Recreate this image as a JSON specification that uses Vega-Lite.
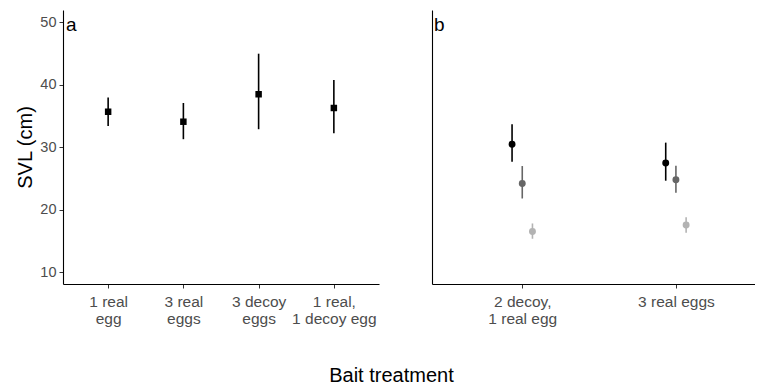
{
  "$schema": "https://vega.github.io/schema/vega-lite/v6.json",
  "background": "white",
  "padding": {"left": 15, "top": 10, "right": 0, "bottom": 0},
  "datasets": {
    "a": [
      {"treatment": "1 real egg", "svl": 35.7, "lo": 33.4, "hi": 38.0},
      {"treatment": "3 real eggs", "svl": 34.1, "lo": 31.3, "hi": 37.1},
      {"treatment": "3 decoy eggs", "svl": 38.5, "lo": 32.9, "hi": 45.0},
      {"treatment": "1 real, 1 decoy egg", "svl": 36.3, "lo": 32.25, "hi": 40.8}
    ],
    "b": [
      {"treatment": "2 decoy, 1 real egg", "group": "g1", "svl": 30.5, "lo": 27.7, "hi": 33.7},
      {"treatment": "2 decoy, 1 real egg", "group": "g2", "svl": 24.2, "lo": 21.8, "hi": 27.0},
      {"treatment": "2 decoy, 1 real egg", "group": "g3", "svl": 16.5, "lo": 15.35, "hi": 17.8},
      {"treatment": "3 real eggs", "group": "g1", "svl": 27.5, "lo": 24.65, "hi": 30.75},
      {"treatment": "3 real eggs", "group": "g2", "svl": 24.8, "lo": 22.7, "hi": 27.05},
      {"treatment": "3 real eggs", "group": "g3", "svl": 17.55, "lo": 16.3, "hi": 18.8}
    ]
  },
  "title": {
    "text": "Bait treatment",
    "orient": "bottom",
    "anchor": "middle",
    "frame": "bounds",
    "offset": 39,
    "dx": 6,
    "fontSize": 20,
    "fontWeight": "normal",
    "font": "Liberation Sans",
    "color": "black"
  },
  "bounds": "flush",
  "spacing": 53,
  "hconcat": [
    {
      "width": 316,
      "height": 274,
      "data": {"name": "a"},
      "title": {"text": "a", "anchor": "start", "orient": "top", "frame": "group", "offset": 0, "dy": 25, "dx": 3, "fontSize": 19, "fontWeight": "normal", "color": "black", "font": "Liberation Sans"},
      "encoding": {
        "x": {
          "field": "treatment", "type": "nominal",
          "sort": ["1 real egg", "3 real eggs", "3 decoy eggs", "1 real, 1 decoy egg"],
          "scale": {"type": "point", "padding": 0.6},
          "axis": {
            "title": null, "labelAngle": 0, "labelFontSize": 15.5, "labelPadding": 6,
            "labelExpr": "datum.label == '1 real egg' ? ['1 real', 'egg'] : datum.label == '3 real eggs' ? ['3 real', 'eggs'] : datum.label == '3 decoy eggs' ? ['3 decoy', 'eggs'] : ['1 real,', '1 decoy egg']"
          }
        },
        "y": {
          "field": "svl", "type": "quantitative",
          "scale": {"domain": [8.1, 52], "nice": false, "zero": false},
          "axis": {"title": "SVL (cm)", "values": [10, 20, 30, 40, 50], "grid": false, "titlePadding": 4}
        }
      },
      "layer": [
        {
          "mark": {"type": "rule", "strokeWidth": 1.6, "color": "black"},
          "encoding": {"y": {"field": "lo", "type": "quantitative"}, "y2": {"field": "hi"}}
        },
        {
          "mark": {"type": "point", "shape": "square", "filled": true, "opacity": 1, "size": 42, "color": "black"}
        }
      ]
    },
    {
      "width": 323,
      "height": 274,
      "data": {"name": "b"},
      "title": {"text": "b", "anchor": "start", "orient": "top", "frame": "group", "offset": 0, "dy": 25, "dx": 2, "fontSize": 19, "fontWeight": "normal", "color": "black", "font": "Liberation Sans"},
      "encoding": {
        "x": {
          "field": "treatment", "type": "nominal",
          "sort": ["2 decoy, 1 real egg", "3 real eggs"],
          "scale": {"type": "point", "padding": 0.551, "align": 0.533},
          "axis": {
            "title": null, "labelAngle": 0, "labelFontSize": 15.5, "labelPadding": 6,
            "labelExpr": "datum.label == '2 decoy, 1 real egg' ? ['2 decoy,', '1 real egg'] : datum.label"
          }
        },
        "xOffset": {
          "field": "group", "type": "nominal",
          "scale": {"type": "point", "range": [-15.3, 15.3]}
        },
        "y": {
          "field": "svl", "type": "quantitative",
          "scale": {"domain": [8.1, 52], "nice": false, "zero": false},
          "axis": {"title": null, "labels": false, "ticks": false, "grid": false}
        },
        "color": {
          "field": "group", "type": "nominal",
          "scale": {"domain": ["g1", "g2", "g3"], "range": ["#000000", "#666666", "#b3b3b3"]},
          "legend": null
        }
      },
      "layer": [
        {
          "mark": {"type": "rule", "strokeWidth": 1.6},
          "encoding": {"y": {"field": "lo", "type": "quantitative"}, "y2": {"field": "hi"}}
        },
        {
          "mark": {"type": "circle", "opacity": 1, "size": 48}
        }
      ]
    }
  ],
  "resolve": {"scale": {"y": "shared"}},
  "config": {
    "font": "Liberation Sans",
    "view": {"stroke": null},
    "axis": {
      "labelFont": "Liberation Sans",
      "labelFontSize": 14.5,
      "labelColor": "#4d4d4d",
      "labelLineHeight": 17,
      "labelPadding": 3,
      "tickColor": "#333333",
      "tickSize": 4,
      "tickWidth": 1,
      "domainColor": "black",
      "domainWidth": 1.1,
      "titleFont": "Liberation Sans",
      "titleFontSize": 20,
      "titleFontWeight": "normal",
      "titleColor": "black"
    }
  }
}
